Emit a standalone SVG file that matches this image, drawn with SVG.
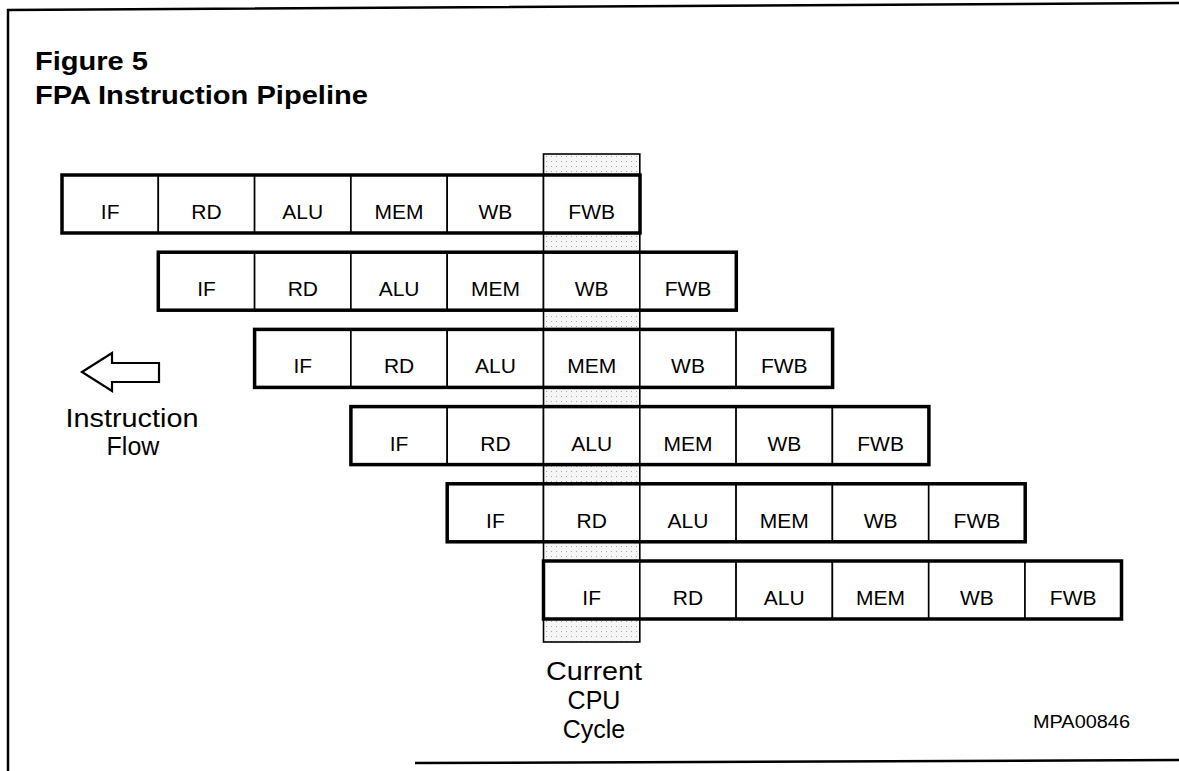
<svg xmlns="http://www.w3.org/2000/svg" width="1179" height="771" viewBox="0 0 1179 771">
<style>
  .frame{fill:none;stroke:#000;stroke-width:2.5}
  .row{fill:none;stroke:#000;stroke-width:3.5}
  .cell{fill:#fff;stroke:#000;stroke-width:1.6}
  .lbl{font-family:"Liberation Sans",Arial,sans-serif;font-size:21px;fill:#000;text-anchor:middle}
  .title{font-family:"Liberation Sans",Arial,sans-serif;font-size:25px;font-weight:bold;fill:#000}
  .big{font-family:"Liberation Sans",Arial,sans-serif;font-size:25px;fill:#000;text-anchor:middle}
  .code{font-family:"Liberation Sans",Arial,sans-serif;font-size:18px;fill:#000}
</style>
<defs>
  <pattern id="stip" width="5" height="5" patternUnits="userSpaceOnUse">
    <rect width="5" height="5" fill="#f6f6f6"/>
    <rect x="1" y="1" width="1" height="1" fill="#a8a8a8"/>
  </pattern>
</defs>
<rect width="1179" height="771" fill="#fff"/>
<g id="frame">
  <polyline class="frame" points="1179,3 8,10 8,771"/>
  <line class="frame" x1="415" y1="763" x2="1179" y2="760"/>
</g>
<g id="titles">
  <text class="title" x="35" y="70" textLength="113" lengthAdjust="spacingAndGlyphs">Figure 5</text>
  <text class="title" x="35" y="104" textLength="333" lengthAdjust="spacingAndGlyphs">FPA Instruction Pipeline</text>
</g>
<g id="current-cycle">
  <rect x="543.5" y="154" width="96.3" height="488" fill="url(#stip)" stroke="#000" stroke-width="1.6"/>
  <text class="big" x="594" y="680" textLength="96" lengthAdjust="spacingAndGlyphs">Current</text>
  <text class="big" x="594" y="709">CPU</text>
  <text class="big" x="594" y="738">Cycle</text>
</g>
<g id="row1">
  <rect class="cell" x="62" y="175" width="96.3" height="58"/>
  <rect class="cell" x="158.3" y="175" width="96.3" height="58"/>
  <rect class="cell" x="254.6" y="175" width="96.3" height="58"/>
  <rect class="cell" x="350.9" y="175" width="96.3" height="58"/>
  <rect class="cell" x="447.2" y="175" width="96.3" height="58"/>
  <rect class="cell" x="543.5" y="175" width="96.3" height="58"/>
  <rect class="row" x="62" y="175" width="578" height="58"/>
  <text class="lbl" x="110.2" y="219">IF</text>
  <text class="lbl" x="206.5" y="219">RD</text>
  <text class="lbl" x="302.8" y="219">ALU</text>
  <text class="lbl" x="399.1" y="219">MEM</text>
  <text class="lbl" x="495.4" y="219">WB</text>
  <text class="lbl" x="591.7" y="219">FWB</text>
</g>
<g id="row2">
  <rect class="cell" x="158.3" y="252.2" width="96.3" height="58"/>
  <rect class="cell" x="254.6" y="252.2" width="96.3" height="58"/>
  <rect class="cell" x="350.9" y="252.2" width="96.3" height="58"/>
  <rect class="cell" x="447.2" y="252.2" width="96.3" height="58"/>
  <rect class="cell" x="543.5" y="252.2" width="96.3" height="58"/>
  <rect class="cell" x="639.8" y="252.2" width="96.3" height="58"/>
  <rect class="row" x="158.3" y="252.2" width="578" height="58"/>
  <text class="lbl" x="206.5" y="296">IF</text>
  <text class="lbl" x="302.8" y="296">RD</text>
  <text class="lbl" x="399.1" y="296">ALU</text>
  <text class="lbl" x="495.4" y="296">MEM</text>
  <text class="lbl" x="591.7" y="296">WB</text>
  <text class="lbl" x="688" y="296">FWB</text>
</g>
<g id="row3">
  <rect class="cell" x="254.6" y="329.4" width="96.3" height="58"/>
  <rect class="cell" x="350.9" y="329.4" width="96.3" height="58"/>
  <rect class="cell" x="447.2" y="329.4" width="96.3" height="58"/>
  <rect class="cell" x="543.5" y="329.4" width="96.3" height="58"/>
  <rect class="cell" x="639.8" y="329.4" width="96.3" height="58"/>
  <rect class="cell" x="736.1" y="329.4" width="96.3" height="58"/>
  <rect class="row" x="254.6" y="329.4" width="578" height="58"/>
  <text class="lbl" x="302.8" y="373">IF</text>
  <text class="lbl" x="399.1" y="373">RD</text>
  <text class="lbl" x="495.4" y="373">ALU</text>
  <text class="lbl" x="591.7" y="373">MEM</text>
  <text class="lbl" x="688" y="373">WB</text>
  <text class="lbl" x="784.3" y="373">FWB</text>
</g>
<g id="row4">
  <rect class="cell" x="350.9" y="406.6" width="96.3" height="58"/>
  <rect class="cell" x="447.2" y="406.6" width="96.3" height="58"/>
  <rect class="cell" x="543.5" y="406.6" width="96.3" height="58"/>
  <rect class="cell" x="639.8" y="406.6" width="96.3" height="58"/>
  <rect class="cell" x="736.1" y="406.6" width="96.3" height="58"/>
  <rect class="cell" x="832.4" y="406.6" width="96.3" height="58"/>
  <rect class="row" x="350.9" y="406.6" width="578" height="58"/>
  <text class="lbl" x="399.1" y="450.5">IF</text>
  <text class="lbl" x="495.4" y="450.5">RD</text>
  <text class="lbl" x="591.7" y="450.5">ALU</text>
  <text class="lbl" x="688" y="450.5">MEM</text>
  <text class="lbl" x="784.3" y="450.5">WB</text>
  <text class="lbl" x="880.6" y="450.5">FWB</text>
</g>
<g id="row5">
  <rect class="cell" x="447.2" y="483.8" width="96.3" height="58"/>
  <rect class="cell" x="543.5" y="483.8" width="96.3" height="58"/>
  <rect class="cell" x="639.8" y="483.8" width="96.3" height="58"/>
  <rect class="cell" x="736.1" y="483.8" width="96.3" height="58"/>
  <rect class="cell" x="832.4" y="483.8" width="96.3" height="58"/>
  <rect class="cell" x="928.7" y="483.8" width="96.3" height="58"/>
  <rect class="row" x="447.2" y="483.8" width="578" height="58"/>
  <text class="lbl" x="495.4" y="527.5">IF</text>
  <text class="lbl" x="591.7" y="527.5">RD</text>
  <text class="lbl" x="688" y="527.5">ALU</text>
  <text class="lbl" x="784.3" y="527.5">MEM</text>
  <text class="lbl" x="880.6" y="527.5">WB</text>
  <text class="lbl" x="976.9" y="527.5">FWB</text>
</g>
<g id="row6">
  <rect class="cell" x="543.5" y="561" width="96.3" height="58"/>
  <rect class="cell" x="639.8" y="561" width="96.3" height="58"/>
  <rect class="cell" x="736.1" y="561" width="96.3" height="58"/>
  <rect class="cell" x="832.4" y="561" width="96.3" height="58"/>
  <rect class="cell" x="928.7" y="561" width="96.3" height="58"/>
  <rect class="cell" x="1025" y="561" width="96.3" height="58"/>
  <rect class="row" x="543.5" y="561" width="578" height="58"/>
  <text class="lbl" x="591.7" y="604.5">IF</text>
  <text class="lbl" x="688" y="604.5">RD</text>
  <text class="lbl" x="784.3" y="604.5">ALU</text>
  <text class="lbl" x="880.6" y="604.5">MEM</text>
  <text class="lbl" x="976.9" y="604.5">WB</text>
  <text class="lbl" x="1073.2" y="604.5">FWB</text>
</g>
<g id="connectors">
  <polygon points="82,372 112,353 112,363 159,363 159,382 112,382 112,391" fill="#fff" stroke="#000" stroke-width="2.2" stroke-linejoin="miter"/>
</g>
<g id="flow-label">
  <text class="big" x="132" y="427" textLength="133" lengthAdjust="spacingAndGlyphs">Instruction</text>
  <text class="big" x="133" y="455">Flow</text>
</g>
<g id="code">
  <text class="code" x="1033" y="728" textLength="97" lengthAdjust="spacingAndGlyphs">MPA00846</text>
</g>
</svg>
